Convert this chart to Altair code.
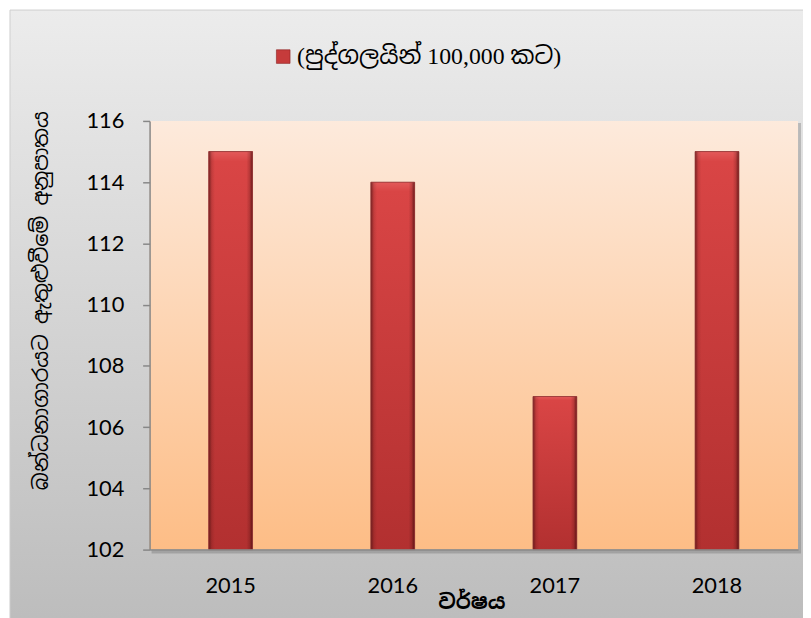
import altair as alt
import pandas as pd

# ---- data ----
years = ["2015", "2016", "2017", "2018"]
rates = [115, 114, 107, 115]
series_label = "(පුද්ගලයින් 100,000 කට)"
y_title = "බන්ධනාගාරයට ඇතුළුවීමේ අනුපාතය"
x_title = "වර්ෂය"
y_ticks = [102, 104, 106, 108, 110, 112, 114, 116]
y_domain = [102, 116]
y_base = 102

df = pd.DataFrame({"year": years, "rate": rates, "series": [series_label] * len(years)})
one = pd.DataFrame({"k": [0]})

W, H = 655, 433
SIN_FONT = "Iskoola Pota, Noto Sans Sinhala, Noto Serif Sinhala, Lato, sans-serif"

def vgrad(stops):
    return alt.Gradient(gradient="linear", x1=0, x2=0, y1=0, y2=1,
                        stops=[alt.GradientStop(color=c, offset=o) for o, c in stops])

edge_grad = alt.Gradient(
    gradient="linear", x1=0, x2=1, y1=0, y2=0,
    stops=[
        alt.GradientStop(color="rgba(70,15,15,0.65)", offset=0),
        alt.GradientStop(color="rgba(70,15,15,0.15)", offset=0.07),
        alt.GradientStop(color="rgba(70,15,15,0.0)", offset=0.14),
        alt.GradientStop(color="rgba(70,15,15,0.0)", offset=0.86),
        alt.GradientStop(color="rgba(60,10,10,0.2)", offset=0.93),
        alt.GradientStop(color="rgba(60,10,10,0.7)", offset=1),
    ],
)

x_enc = alt.X(
    "year:N", sort=years,
    scale=alt.Scale(paddingInner=0.73, paddingOuter=0.365),
    axis=alt.Axis(
        ticks=False, domainColor="#8a8a8a", domainWidth=1.5,
        labelFont="Lato", labelFontSize=22, labelFontWeight="normal", labelColor="black",
        labelPadding=26, labelAngle=0,
        title=x_title, titleFont=SIN_FONT, titleFontSize=21, titleFontWeight="bold",
        titleColor="black", titleY=53, titleX=325, titleBaseline="middle", zindex=1,
    ),
)
y_enc = alt.Y(
    "rate:Q",
    scale=alt.Scale(domain=y_domain, zero=False, nice=False),
    axis=alt.Axis(
        values=y_ticks, grid=False, domainColor="#878787", domainWidth=1.5,
        tickColor="#878787", tickWidth=1.5, tickSize=7,
        labelFont="Lato", labelFontSize=22, labelFontWeight="normal", labelColor="black",
        labelPadding=19,
        title=y_title, titleFont=SIN_FONT, titleFontSize=21, titleFontWeight="normal",
        titleColor="black", titleX=-109, titleY=181, titleAngle=270,
        titleAlign="center", titleBaseline="middle", zindex=1,
    ),
)

outer_bg = alt.Chart(one).mark_rect(
    fill=vgrad([(0, "#ececec"), (1, "#bcbcbc")]), stroke="#cfcfcf", strokeWidth=1
).encode(x=alt.value(-141), x2=alt.value(W + 10), y=alt.value(-112), y2=alt.value(H + 80))
plot_shadow = alt.Chart(one).mark_rect(fill="#5a5a5a", opacity=0.3).encode(
    x=alt.value(2), x2=alt.value(W + 3), y=alt.value(2), y2=alt.value(H + 4)
)
plot_bg = alt.Chart(one).mark_rect(fill=vgrad([(0, "#fdeadc"), (1, "#fdbd86")])).encode(
    x=alt.value(0), x2=alt.value(W), y=alt.value(0), y2=alt.value(H)
)

base = alt.Chart(df)
bars = base.mark_bar().encode(
    color=alt.Color(
        "series:N",
        scale=alt.Scale(range=["#c63b3b"]),
        legend=alt.Legend(
            orient="none", legendX=123, legendY=-77, title=None, padding=0,
            symbolType="square", symbolSize=190, symbolStrokeColor="#8b2020", symbolStrokeWidth=0.6,
            symbolOpacity=1, labelFont="Liberation Serif, " + SIN_FONT, labelFontSize=24,
            labelColor="black", labelOffset=2, labelLimit=0,
        ),
    ),
)
bars_grad = base.mark_bar(fill=vgrad([(0, "#e35a5a"), (0.025, "#d94545"), (1, "#b23030")]))
bars_edge = base.mark_bar(fill=edge_grad, stroke="#8e3434", strokeWidth=0.8)

bar_layer = alt.layer(bars, bars_grad, bars_edge).encode(
    x=x_enc, y=y_enc, y2=alt.datum(y_base)
)

chart = (
    alt.layer(outer_bg, plot_shadow, plot_bg, bar_layer)
    .properties(
        width=W, height=H,
        autosize=alt.AutoSizeParams(type="none"),
        padding={"left": 143, "top": 111, "right": 5, "bottom": 66},
        background="white",
    )
    .configure_view(stroke=None)
)

chart.save("out.html", embed_options={"renderer": "svg", "actions": False})
